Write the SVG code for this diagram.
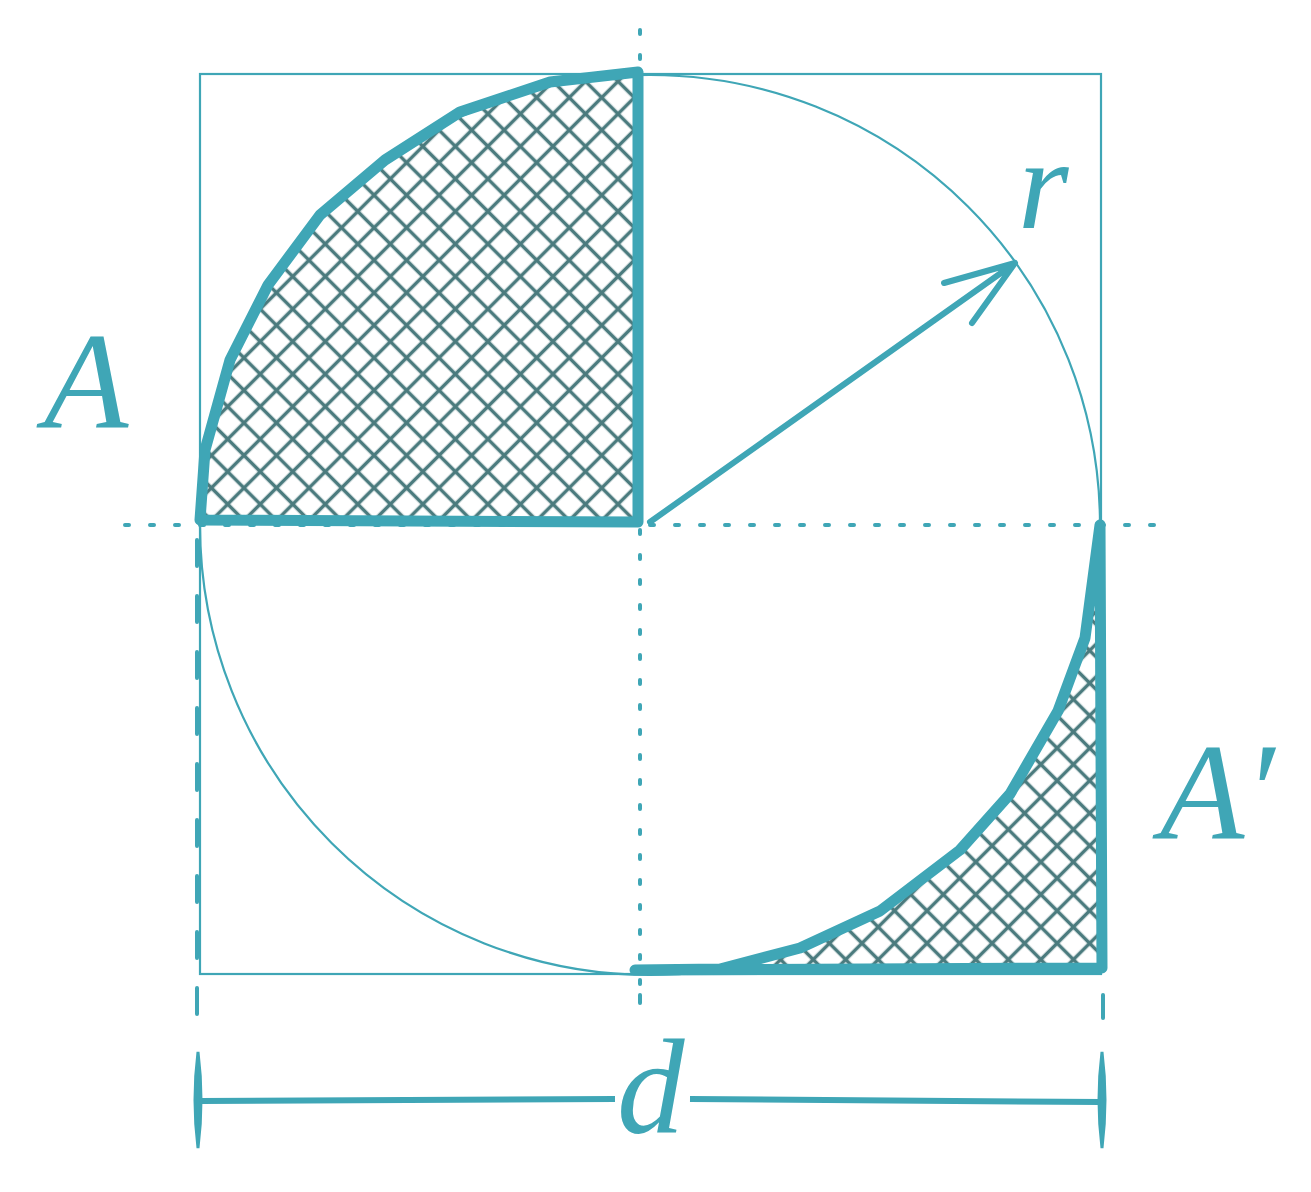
<svg xmlns="http://www.w3.org/2000/svg" width="1311" height="1192" viewBox="0 0 1311 1192">
<style>
.thin{fill:none;stroke:#3fa6b6;stroke-width:2.2}
.thick{stroke:#3fa6b6;stroke-width:11;stroke-linejoin:round;stroke-linecap:round}
.dot{fill:none;stroke:#3fa6b6;stroke-width:4;stroke-linecap:round;stroke-dasharray:4 21}
.dash{fill:none;stroke:#3fa6b6;stroke-width:4;stroke-linecap:round;stroke-dasharray:26 30}
.lbl{font-family:"Liberation Serif",serif;font-style:italic;fill:#3fa6b6}
</style>
<defs>
<pattern id="hatch" width="23" height="23" patternUnits="userSpaceOnUse" patternTransform="rotate(45)">
<path d="M0,11.5 H23 M11.5,0 V23" stroke="#4b7b7e" stroke-width="3.5" fill="none"/>
</pattern>
</defs>
<rect width="1311" height="1192" fill="#fff"/>
<g id="frame">
<rect class="thin" x="200" y="74" width="901" height="900"/>
<circle class="thin" cx="650" cy="525" r="450"/>
</g>
<g id="axes">
<line class="dot" x1="125" y1="525" x2="1155" y2="525"/>
<line class="dot" x1="640" y1="30" x2="640" y2="1005"/>
</g>
<g id="regionA">
<path class="thick" fill="url(#hatch)" d="M638,72 L638,522 L200,520 L205,450 L230,360 L268,285 L320,215 L385,160 L460,112 L550,82 L638,72 Z"/>
</g>
<g id="regionA2">
<path class="thick" fill="url(#hatch)" d="M1100,525 L1102,968 L635,970 L720,969 L800,948 L880,911 L960,850 L1010,794 L1058,711 L1085,638 Z"/>
</g>
<g id="radius">
<path d="M650,522 L1015,263 M944,283 L1015,263 L972,323" fill="none" stroke="#3fa6b6" stroke-width="6" stroke-linecap="round" stroke-linejoin="round"/>
</g>
<g id="dimension">
<line class="dash" x1="197" y1="540" x2="197" y2="1030"/>
<line x1="1103" y1="995" x2="1103" y2="1018" stroke="#3fa6b6" stroke-width="4" stroke-linecap="round"/>
<line x1="640" y1="995" x2="640" y2="1003" stroke="#3fa6b6" stroke-width="4" stroke-linecap="round"/>
<path d="M200,1101 L615,1099 M690,1099 L1101,1102" stroke="#3fa6b6" stroke-width="6" fill="none"/>
<path d="M198,1052 Q204,1100 198,1148 Q192,1100 198,1052 Z" fill="#3fa6b6" stroke="#3fa6b6" stroke-width="3"/>
<path d="M1102,1052 Q1108,1100 1102,1148 Q1096,1100 1102,1052 Z" fill="#3fa6b6" stroke="#3fa6b6" stroke-width="3"/>
</g>
<g id="labels">
<text class="lbl" x="44" y="427" font-size="138">A</text>
<text class="lbl" x="1018" y="228" font-size="130">r</text>
<text class="lbl" x="1160" y="838" font-size="138">A′</text>
<text class="lbl" x="617" y="1133" font-size="135">d</text>
</g>
</svg>
